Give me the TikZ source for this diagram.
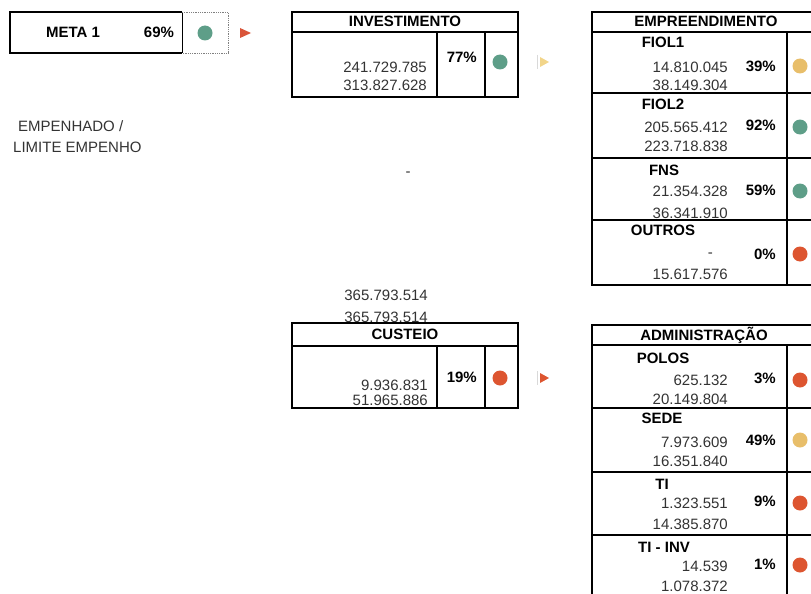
\documentclass[tikz,border=0pt]{standalone}
\usepackage{fontspec}
\setmainfont{Liberation Sans}
\definecolor{okgreen}{HTML}{5E9E88}
\definecolor{warnyellow}{HTML}{E8BE6A}
\definecolor{badred}{HTML}{DD5530}
\definecolor{flagred}{HTML}{D9553A}
\definecolor{flagyellow}{HTML}{F2D58A}
\definecolor{numgray}{HTML}{333333}
\begin{document}
\begin{tikzpicture}[x=1pt,y=-1pt,
  txt/.style={inner sep=0pt, anchor=base, font=\fontsize{15}{17}\selectfont, text=numgray},
  num/.style={txt, anchor=base east},
  bld/.style={inner sep=0pt, anchor=base, font=\fontsize{15}{17}\selectfont\bfseries, text=black},
  pct/.style={bld, anchor=base east},
  tline/.style={line width=1.5pt, black},
  dot/.style={circle, inner sep=0pt, minimum size=15pt},
  flagbar/.style={line width=0.8pt, black!15},
]
\useasboundingbox (0,0) rectangle (811,594);
\clip (0,0) rectangle (811,594);

% ---------------- META 1 ----------------
\draw[tline] (182,12) -- (10,12) -- (10,53) -- (182,53);
\draw[line width=1pt] (182,12) -- (182,53);
\draw[densely dotted, black!50, line width=0.8pt] (182,12) -- (228,12) -- (228,53) -- (182,53);
\node[bld] (meta) at (73,38) {META 1};
\node[bld] (metapct) at (159,38) {69\%};
\node[dot, fill=okgreen] (metadot) at (205,33) {};
\fill[flagred] (240,28) -- (251,33) -- (240,38) -- cycle;

\node[txt, anchor=base west] (lab1) at (18,131) {EMPENHADO /};
\node[txt, anchor=base west] (lab2) at (13,152) {LIMITE EMPENHO};

% ---------------- INVESTIMENTO ----------------
\draw[tline] (292,12) rectangle (518,97);
\draw[tline] (292,32) -- (518,32);
\draw[tline] (437,32) -- (437,97);
\draw[tline] (485,32) -- (485,97);
\node[bld] (invh) at (405,27) {INVESTIMENTO};
\node[num] (inv1) at (427,72) {241.729.785};
\node[num] (inv2) at (427,90) {313.827.628};
\node[pct] (invp) at (477,63) {77\%};
\node[dot, fill=okgreen] (invdot) at (500,62) {};
\draw[flagbar] (537,55) -- (537,69);
\fill[flagyellow] (540,57) -- (549,62) -- (540,67) -- cycle;

\node[txt] (dash1) at (408,176) {-};
\node[num] (tot1) at (428,300) {365.793.514};
\node[num] (tot2) at (428,322) {365.793.514};

% ---------------- CUSTEIO ----------------
\draw[tline] (292,323) rectangle (518,408);
\draw[tline] (292,346) -- (518,346);
\draw[tline] (437,346) -- (437,408);
\draw[tline] (485,346) -- (485,408);
\node[bld] (custh) at (405,339) {CUSTEIO};
\node[num] (cus1) at (428,390) {9.936.831};
\node[num] (cus2) at (428,405) {51.965.886};
\node[pct] (cusp) at (477,382) {19\%};
\node[dot, fill=badred] (cusdot) at (500,378) {};
\draw[flagbar] (537,371) -- (537,385);
\fill[badred] (540,373) -- (549,378) -- (540,383) -- cycle;

% ---------------- EMPREENDIMENTO ----------------
\draw[tline] (830,12) -- (592,12) -- (592,285) -- (830,285);
\draw[tline] (592,32) -- (830,32);
\draw[tline] (592,93) -- (830,93);
\draw[tline] (592,158) -- (830,158);
\draw[tline] (592,220) -- (830,220);
\draw[tline] (787,32) -- (787,285);
\node[bld] (emph) at (706,27) {EMPREENDIMENTO};

\node[bld] (f1l) at (663,48) {FIOL1};
\node[num] (f1a) at (728,73) {14.810.045};
\node[pct] (f1p) at (776,71) {39\%};
\node[num] (f1b) at (728,91) {38.149.304};
\node[dot, fill=warnyellow] (f1d) at (800,66) {};

\node[bld] (f2l) at (663,110) {FIOL2};
\node[num] (f2a) at (728,132) {205.565.412};
\node[pct] (f2p) at (776,130) {92\%};
\node[num] (f2b) at (728,151) {223.718.838};
\node[dot, fill=okgreen] (f2d) at (800,127) {};

\node[bld] (fnl) at (664,175) {FNS};
\node[num] (fna) at (728,196) {21.354.328};
\node[pct] (fnp) at (776,195) {59\%};
\node[num] (fnb) at (728,218) {36.341.910};
\node[dot, fill=okgreen] (fnd) at (800,191) {};

\node[bld] (otl) at (663,235) {OUTROS};
\node[num] (ota) at (713,257) {-};
\node[pct] (otp) at (776,259) {0\%};
\node[num] (otb) at (728,279) {15.617.576};
\node[dot, fill=badred] (otd) at (800,254) {};

% ---------------- ADMINISTRACAO ----------------
\draw[tline] (830,325) -- (592,325) -- (592,600);
\draw[tline] (592,345) -- (830,345);
\draw[tline] (592,408) -- (830,408);
\draw[tline] (592,472) -- (830,472);
\draw[tline] (592,535) -- (830,535);
\draw[tline] (787,345) -- (787,600);
\node[bld] (admh) at (704,340) {ADMINISTRAÇÃO};

\node[bld] (pol) at (663,363) {POLOS};
\node[num] (pola) at (728,385) {625.132};
\node[pct] (polp) at (776,383) {3\%};
\node[num] (polb) at (728,404) {20.149.804};
\node[dot, fill=badred] (pold) at (800,380) {};

\node[bld] (sedl) at (662,423) {SEDE};
\node[num] (seda) at (728,447) {7.973.609};
\node[pct] (sedp) at (776,445) {49\%};
\node[num] (sedb) at (728,466) {16.351.840};
\node[dot, fill=warnyellow] (sedd) at (800,440) {};

\node[bld] (til) at (662,489) {TI};
\node[num] (tia) at (728,508) {1.323.551};
\node[pct] (tip) at (776,506) {9\%};
\node[num] (tib) at (728,529) {14.385.870};
\node[dot, fill=badred] (tid) at (800,503) {};

\node[bld] (tvl) at (664,552) {TI - INV};
\node[num] (tva) at (728,571) {14.539};
\node[pct] (tvp) at (776,569) {1\%};
\node[num] (tvb) at (728,591) {1.078.372};
\node[dot, fill=badred] (tvd) at (800,565) {};
\end{tikzpicture}
\end{document}
